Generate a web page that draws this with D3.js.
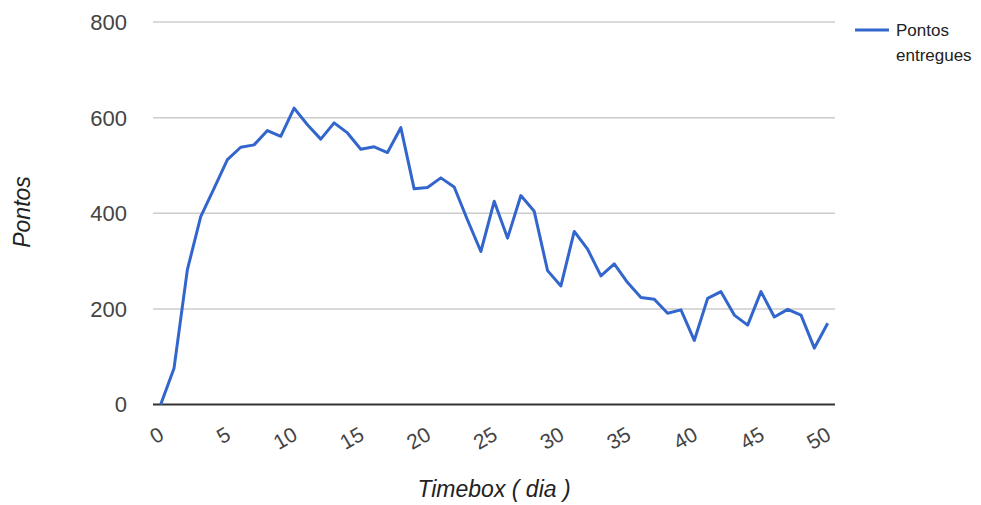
<!DOCTYPE html>
<html>
<head>
<meta charset="utf-8">
<script src="https://cdn.jsdelivr.net/npm/d3@7"></script>
<style>
  html, body { margin: 0; padding: 0; background: #fff; }
  svg { display: block; font-family: Arial, "Liberation Sans", sans-serif; }
</style>
</head>
<body>
<svg id="chart" width="981" height="505"></svg>
<script>
// Delivered points per timebox day
const days = d3.range(0, 51);
const pontos = [
  0, 76, 282, 393, 452, 512, 538, 543, 573, 561,
  620, 585, 555, 589, 568, 534, 539, 527, 579, 451,
  454, 474, 455, 386, 320, 425, 348, 437, 404, 280,
  248, 362, 325, 269, 294, 255, 224, 220, 191, 198,
  134, 222, 236, 187, 166, 236, 183, 199, 187, 118,
  170
];
const xTicks = [0, 5, 10, 15, 20, 25, 30, 35, 40, 45, 50];
const yTicks = [0, 200, 400, 600, 800];
const seriesName = ["Pontos", "entregues"];
const xTitle = "Timebox ( dia )";
const yTitle = "Pontos";

const svg = d3.select("#chart");
const plotLeft = 160.7, plotRight = 827.7, plotTop = 22, plotBottom = 404.5;
const gridLeft = 153, gridRight = 835;

const x = d3.scaleLinear().domain([0, 50]).range([plotLeft, plotRight]);
const y = d3.scaleLinear().domain([0, 800]).range([plotBottom, plotTop]);

// horizontal gridlines
svg.append("g")
  .selectAll("line")
  .data(yTicks.filter(d => d !== 0))
  .join("line")
  .attr("x1", gridLeft).attr("x2", gridRight)
  .attr("y1", d => y(d)).attr("y2", d => y(d))
  .attr("stroke", "#cccccc").attr("stroke-width", 1.5);

// y tick labels
svg.append("g")
  .selectAll("text")
  .data(yTicks)
  .join("text")
  .attr("x", 127).attr("y", d => y(d))
  .attr("dy", "0.36em")
  .attr("text-anchor", "end")
  .attr("font-size", 22)
  .attr("fill", "#444")
  .text(d => d);

// x tick labels, slanted
svg.append("g")
  .selectAll("text")
  .data(xTicks)
  .join("text")
  .attr("transform", d => `translate(${x(d) + 1},${432}) rotate(-30)`)
  .attr("dy", "0.36em")
  .attr("text-anchor", "end")
  .attr("font-size", 21)
  .attr("fill", "#444")
  .text(d => d);

// baseline
svg.append("line")
  .attr("x1", gridLeft).attr("x2", gridRight)
  .attr("y1", y(0)).attr("y2", y(0))
  .attr("stroke", "#333").attr("stroke-width", 2);

// series line
const line = d3.line()
  .x((d, i) => x(days[i]))
  .y(d => y(d));

svg.append("path")
  .datum(pontos)
  .attr("d", line)
  .attr("fill", "none")
  .attr("stroke", "#3366cc")
  .attr("stroke-width", 3)
  .attr("stroke-linejoin", "round");

// axis titles
svg.append("text")
  .attr("x", (gridLeft + gridRight) / 2).attr("y", 497)
  .attr("text-anchor", "middle")
  .attr("font-size", 23)
  .attr("font-style", "italic")
  .attr("fill", "#222")
  .text(xTitle);

svg.append("text")
  .attr("transform", `translate(${30},${212}) rotate(-90)`)
  .attr("text-anchor", "middle")
  .attr("font-size", 23)
  .attr("font-style", "italic")
  .attr("fill", "#222")
  .text(yTitle);

// legend
const legend = svg.append("g");
legend.append("line")
  .attr("x1", 855).attr("x2", 889)
  .attr("y1", 30).attr("y2", 30)
  .attr("stroke", "#3366cc").attr("stroke-width", 3);
legend.selectAll("text")
  .data(seriesName)
  .join("text")
  .attr("x", 896)
  .attr("y", (d, i) => 30 + i * 25)
  .attr("dy", "0.36em")
  .attr("font-size", 17)
  .attr("fill", "#222")
  .text(d => d);
</script>
</body>
</html>
